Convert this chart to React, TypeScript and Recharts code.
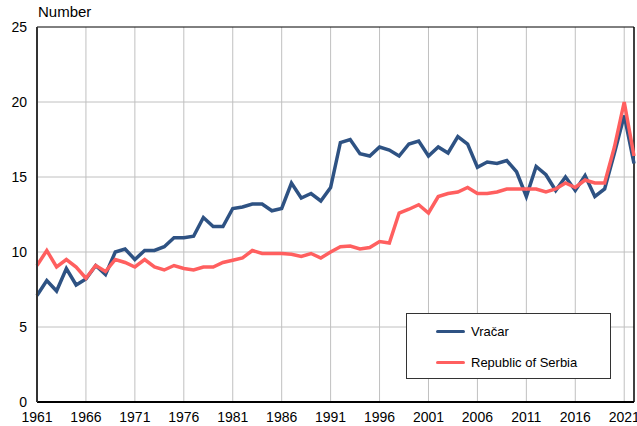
import { LineChart, Line, XAxis, YAxis, CartesianGrid, ReferenceLine } from "recharts";

const BLUE = "#2E5283";
const RED = "#FF5F5F";
const FONT = "'Liberation Sans', Arial, sans-serif";

const YEARS = [
  1961, 1962, 1963, 1964, 1965, 1966, 1967, 1968, 1969, 1970,
  1971, 1972, 1973, 1974, 1975, 1976, 1977, 1978, 1979, 1980,
  1981, 1982, 1983, 1984, 1985, 1986, 1987, 1988, 1989, 1990,
  1991, 1992, 1993, 1994, 1995, 1996, 1997, 1998, 1999, 2000,
  2001, 2002, 2003, 2004, 2005, 2006, 2007, 2008, 2009, 2010,
  2011, 2012, 2013, 2014, 2015, 2016, 2017, 2018, 2019, 2020,
  2021, 2022,
];

const VRACAR = [
  7.1, 8.1, 7.4, 8.9, 7.8, 8.2, 9.1, 8.5, 10.0, 10.2,
  9.5, 10.1, 10.1, 10.35, 10.95, 10.95, 11.05, 12.3, 11.7, 11.7,
  12.9, 13.0, 13.2, 13.2, 12.75, 12.9, 14.6, 13.6, 13.9, 13.4,
  14.3, 17.3, 17.5, 16.55, 16.4, 17.0, 16.8, 16.4, 17.2, 17.4,
  16.4, 17.0, 16.6, 17.7, 17.2, 15.65, 16.0, 15.9, 16.1, 15.35,
  13.7, 15.7, 15.15, 14.1, 15.0, 14.1, 15.1, 13.7, 14.2, 16.6,
  19.1, 15.9,
];

const SERBIA = [
  9.1, 10.1, 9.0, 9.5, 9.0, 8.25, 9.1, 8.7, 9.5, 9.3,
  9.0, 9.5, 9.0, 8.8, 9.1, 8.9, 8.8, 9.0, 9.0, 9.3,
  9.45, 9.6, 10.1, 9.9, 9.9, 9.9, 9.85, 9.7, 9.9, 9.6,
  10.0, 10.35, 10.4, 10.2, 10.3, 10.7, 10.6, 12.6, 12.85, 13.15,
  12.6, 13.7, 13.9, 14.0, 14.3, 13.9, 13.9, 14.0, 14.2, 14.2,
  14.2, 14.2, 14.0, 14.2, 14.6, 14.3, 14.8, 14.6, 14.6, 17.0,
  20.0, 16.4,
];

const X_TICKS = [1961, 1966, 1971, 1976, 1981, 1986, 1991, 1996, 2001, 2006, 2011, 2016, 2021];
const Y_TICKS = [0, 5, 10, 15, 20, 25];

const data = YEARS.map((year, i) => ({ year, vracar: VRACAR[i], serbia: SERBIA[i] }));

const LEGEND_ITEMS = [
  { name: "Vračar", color: BLUE },
  { name: "Republic of Serbia", color: RED },
];

function LegendBox() {
  return (
    <div style={{ position: "absolute", left: 406, top: 313, width: 205, height: 66, boxSizing: "border-box", border: "1px solid #333", background: "#fff", fontFamily: FONT, fontSize: 13, color: "#000" }}>
      {LEGEND_ITEMS.map((it, i) => (
        <div key={it.name} style={{ position: "absolute", left: 29, top: 8 + i * 31, height: 18, display: "flex", alignItems: "center", whiteSpace: "nowrap" }}>
          <span style={{ width: 29, height: 3, borderRadius: 2, background: it.color, marginRight: 6 }} />
          <span>{it.name}</span>
        </div>
      ))}
    </div>
  );
}

export default function App() {
  return (
    <div style={{ position: "absolute", left: 0, top: 0, width: 637, height: 426, background: "#fff", overflow: "hidden" }}>
      <div style={{ position: "absolute", left: 38, top: -19, fontFamily: FONT, fontSize: 18, fontWeight: 700, lineHeight: "18px", whiteSpace: "nowrap" }}>
        Deaths per 1,000 population, Vračar and Republic of Serbia
      </div>
      <div style={{ position: "absolute", left: 38, top: 3, fontFamily: FONT, fontSize: 15, lineHeight: "17px" }}>Number</div>
      <LineChart width={637} height={426} data={data} margin={{ top: 27, right: 3, bottom: 0, left: 0 }}>
        <CartesianGrid stroke="#C0C0C0" strokeWidth={1} verticalValues={X_TICKS} horizontalValues={[5, 10, 15, 20]} />
        <XAxis
          dataKey="year"
          type="number"
          domain={[1961, 2022]}
          ticks={X_TICKS}
          interval={0}
          height={24}
          tickLine={false}
          tickSize={0}
          tickMargin={10}
          axisLine={{ stroke: "#000", strokeWidth: 2 }}
          tick={{ fontSize: 14, fill: "#000", fontFamily: FONT }}
        />
        <YAxis
          domain={[0, 25]}
          ticks={Y_TICKS}
          interval={0}
          width={37}
          tickLine={false}
          tickSize={0}
          tickMargin={10}
          axisLine={{ stroke: "#333", strokeWidth: 2 }}
          tick={{ fontSize: 14, fill: "#000", fontFamily: FONT }}
        />
        <ReferenceLine y={25} stroke="#000" strokeWidth={1} />
        <ReferenceLine x={2022} stroke="#000" strokeWidth={1.5} />
        <Line dataKey="vracar" name="Vračar" stroke={BLUE} strokeWidth={3.5} dot={false} isAnimationActive={false} />
        <Line dataKey="serbia" name="Republic of Serbia" stroke={RED} strokeWidth={3.5} dot={false} isAnimationActive={false} />
      </LineChart>
      <LegendBox />
    </div>
  );
}
